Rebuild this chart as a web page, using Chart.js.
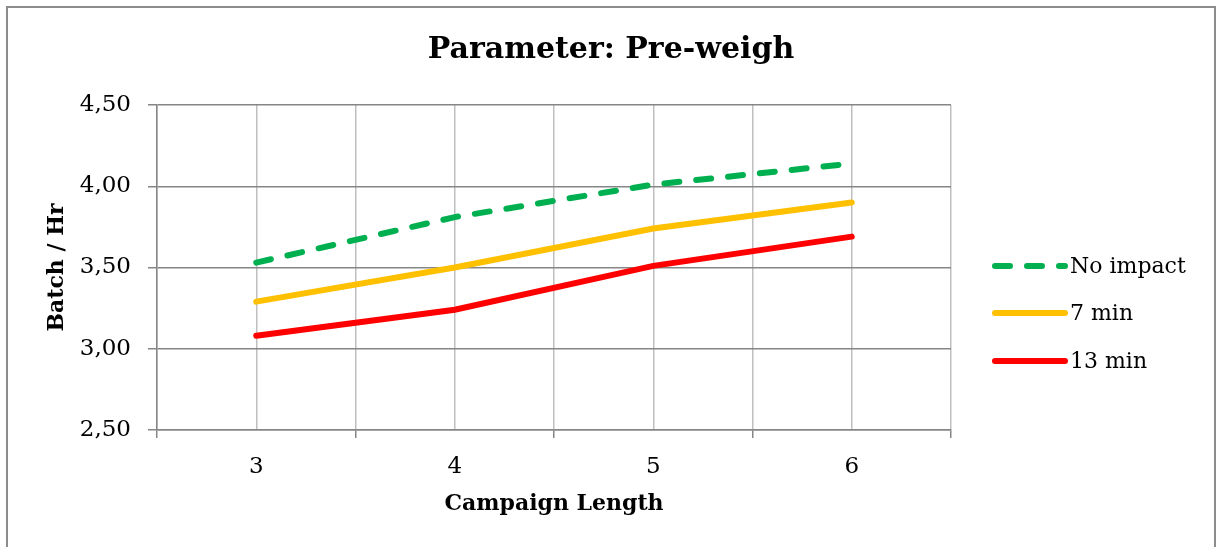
<!DOCTYPE html>
<html>
<head>
<meta charset="utf-8">
<script src="https://cdn.jsdelivr.net/npm/chart.js@4"></script>
<style>
  html, body { margin: 0; padding: 0; background: #fff; }
  #wrap { width: 1222px; height: 547px; }
</style>
</head>
<body>
<div id="wrap"><canvas id="lineChart"></canvas></div>
<script>
const campaignLengths = ["3", "4", "5", "6"];
const noImpact = [3.53, 3.81, 4.01, 4.14];
const sevenMin = [3.29, 3.50, 3.74, 3.90];
const thirteenMin = [3.08, 3.24, 3.51, 3.69];

const FONT = "'DejaVu Serif', serif";

// outer frame of the chart object
const framePlugin = {
  id: "frame",
  beforeDraw(chart) {
    const ctx = chart.ctx;
    ctx.save();
    ctx.fillStyle = "#fff";
    ctx.fillRect(0, 0, chart.width, chart.height);
    ctx.strokeStyle = "#8C8C8C";
    ctx.lineWidth = 2;
    ctx.strokeRect(7, 7, 1208, 600);
    ctx.restore();
  },
};

// legend on the right, drawn with each dataset's own line style
const sideLegend = {
  id: "sideLegend",
  afterDraw(chart) {
    const ctx = chart.ctx;
    const x0 = chart.chartArea.right + 44;
    const x1 = x0 + 70;
    const rows = [266, 313, 361];
    ctx.save();
    chart.data.datasets.forEach((ds, i) => {
      ctx.beginPath();
      ctx.strokeStyle = ds.borderColor;
      ctx.lineWidth = ds.borderWidth;
      ctx.lineCap = "round";
      ctx.setLineDash(ds.borderDash || []);
      ctx.moveTo(x0, rows[i]);
      ctx.lineTo(x1, rows[i]);
      ctx.stroke();
      ctx.setLineDash([]);
      ctx.fillStyle = "#000";
      ctx.font = "22px " + FONT;
      ctx.textBaseline = "middle";
      ctx.fillText(ds.label, x1 + 5, rows[i] + 1);
    });
    ctx.restore();
  },
};

const ctr = document.getElementById("lineChart");

const lineChart = new Chart(ctr, {
  type: "line",
  data: {
    labels: campaignLengths,
    datasets: [
      {
        label: "No impact",
        data: noImpact,
        borderColor: "#00B050",
        borderWidth: 6,
        borderDash: [15, 17],
        borderCapStyle: "round",
        pointRadius: 0,
      },
      {
        label: "7 min",
        data: sevenMin,
        borderColor: "#FFC000",
        borderWidth: 6,
        borderCapStyle: "round",
        pointRadius: 0,
      },
      {
        label: "13 min",
        data: thirteenMin,
        borderColor: "#FF0000",
        borderWidth: 6,
        borderCapStyle: "round",
        pointRadius: 0,
      },
    ],
  },
  options: {
    responsive: true,
    maintainAspectRatio: false,
    animation: false,
    tension: 0,
    layout: {
      padding: 0,
    },
    plugins: {
      legend: { display: false },
      tooltip: { enabled: false },
      title: {
        display: true,
        text: "Parameter: Pre-weigh",
        color: "#000",
        font: { family: FONT, size: 30, weight: "bold", lineHeight: "34px" },
        padding: { top: 33, bottom: 38 },
      },
    },
    scales: {
      x: {
        type: "category",
        offset: true,
        grid: {
          offset: true,
          color: "#BFBFBF",
          lineWidth: 1.5,
          tickColor: "#868686",
          tickLength: 8,
        },
        border: { color: "#868686", width: 1.5 },
        ticks: {
          color: "#000",
          font: { family: FONT, size: 23 },
          padding: 15,
        },
        title: {
          display: true,
          text: "Campaign Length",
          color: "#000",
          font: { family: FONT, size: 22, weight: "bold", lineHeight: "26px" },
          padding: { top: 0, bottom: 30 },
        },
        afterFit(scale) {
          scale.height = 117;
        },
      },
      x2: {
        type: "category",
        position: "bottom",
        offset: true,
        grid: {
          offset: false,
          color: "#BFBFBF",
          lineWidth: 1.5,
          drawTicks: false,
        },
        border: { display: false },
        ticks: { display: false },
        afterFit(scale) {
          scale.height = 0;
        },
      },
      y: {
        min: 2.5,
        max: 4.5,
        grid: {
          color: "#868686",
          lineWidth: 1.5,
          tickLength: 9,
        },
        border: { color: "#868686", width: 1.5 },
        ticks: {
          stepSize: 0.5,
          color: "#000",
          font: { family: FONT, size: 23 },
          padding: 17,
          callback: (v) => v.toFixed(2).replace(".", ","),
        },
        title: {
          display: true,
          text: "Batch / Hr",
          color: "#000",
          font: { family: FONT, size: 22, weight: "bold", lineHeight: "26px" },
          padding: { top: 44, bottom: 0 },
        },
        afterFit(scale) {
          scale.width = 157;
        },
      },
      // empty right-hand box that keeps room for the legend
      yRight: {
        position: "right",
        min: 2.5,
        max: 4.5,
        grid: { drawOnChartArea: false, drawTicks: false },
        border: { display: false },
        ticks: { display: false },
        afterFit(scale) {
          scale.width = 271;
        },
      },
    },
  },
  plugins: [framePlugin, sideLegend],
});
</script>
</body>
</html>
